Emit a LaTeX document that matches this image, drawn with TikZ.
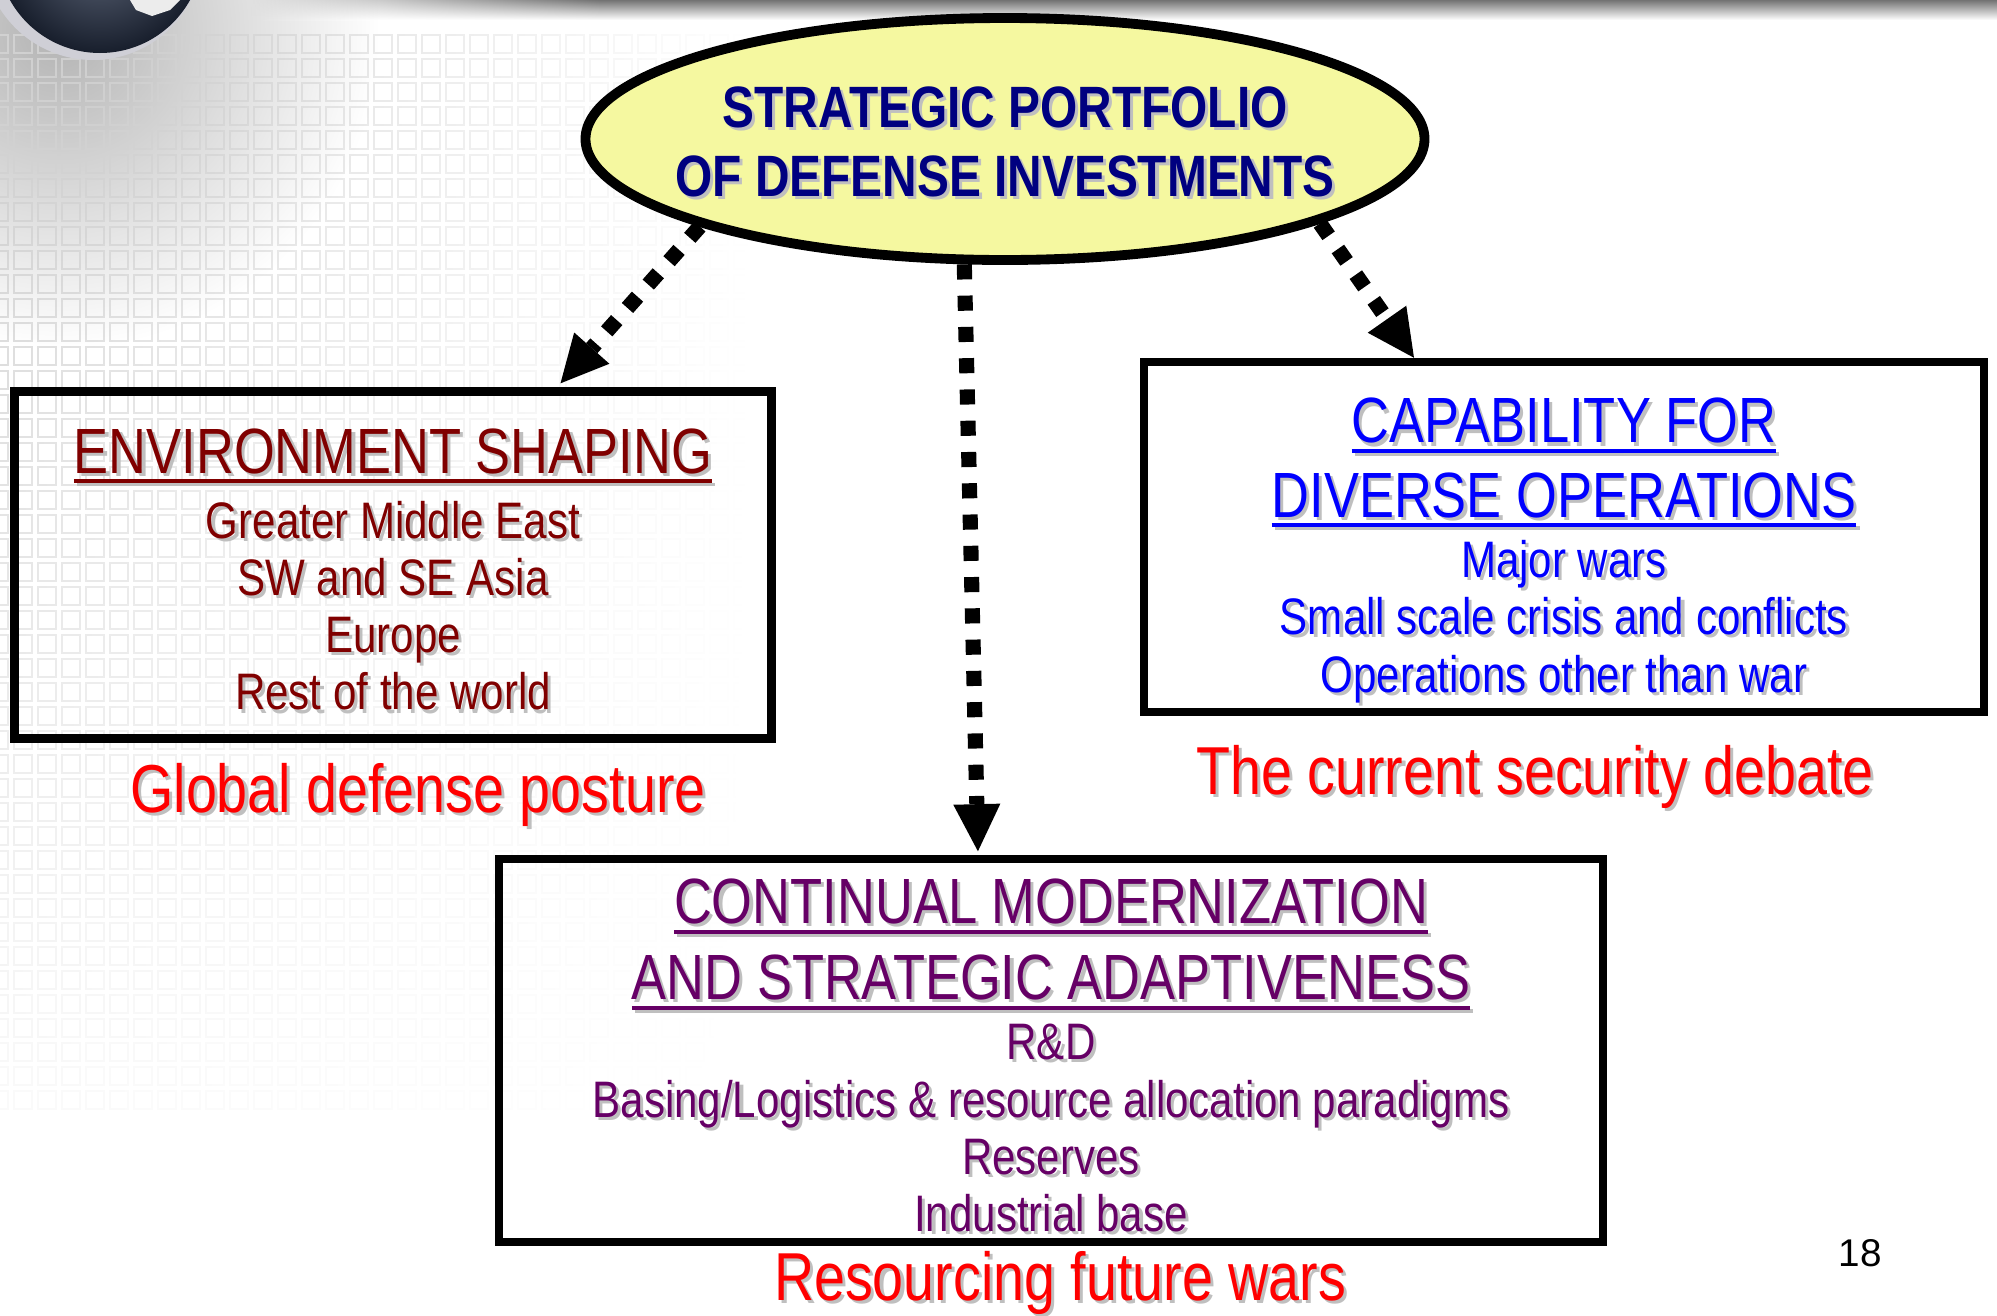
\documentclass[tikz,border=0pt]{standalone}
\usepackage{fontspec}
\setmainfont{Liberation Sans}
\newfontfamily\narrowfont[FakeStretch=0.82]{Liberation Sans}
\usetikzlibrary{arrows.meta,shapes.geometric,fadings}

\definecolor{portfolio}{HTML}{F5F8A0}
\definecolor{navy}{HTML}{000080}
\definecolor{maroon}{HTML}{800000}
\definecolor{brightblue}{HTML}{0000FF}
\definecolor{plum}{HTML}{660066}
\definecolor{globe}{HTML}{2B3750}

% text with a soft grey drop shadow
\newcommand\shadowed[1]{\leavevmode\rlap{\kern.9pt\raisebox{-.9pt}{\color{black!25}#1}}#1}
% heavy underline for the box headings
\newcommand\headline[1]{\setbox0\hbox{#1}\rlap{\rule[-2.9pt]{\wd0}{1.1pt}}\box0}
\newcommand\headsize{\fontsize{18.2}{16.3}\selectfont}
\newcommand\itemfont{\narrowfont\fontsize{14.6}{16.3}\selectfont\lineskiplimit=-\maxdimen\relax}
\newcommand\titlefont{\narrowfont\bfseries\fontsize{16.6}{19.6}\selectfont\lineskiplimit=-\maxdimen\relax}

\tikzset{
  >={Triangle[length=13.4pt,width=13.4pt,line width=0pt]},
  {flow/.style} = {->, line width=4.3pt, dash pattern=on 4.3pt off 4.6pt},
  {topic/.style} = {draw, line width=2.4pt, inner sep=0pt},
  {topic text/.style} = {align=center, inner sep=0pt, font=\itemfont},
  {title/.style} = {align=center, inner sep=0pt, text=navy, text depth=0pt,
                    font=\titlefont},
  {caption/.style} = {red, anchor=base, inner sep=0pt,
                      font=\narrowfont\fontsize{19.3}{20}\selectfont},
  {gridline/.style} = {gray!35, line width=0.6pt},
}

\begin{document}
\begin{tikzpicture}
  \useasboundingbox (0,0) rectangle (19.97,-13.16);

  % slide background: haze, square grid, globe, top bar
  \shade[inner color=black!30, outer color=white] (0.6,-0.3) circle (3.2cm);
  \foreach \r [evaluate=\r as \gridop using {1-\r/50}] in {0,...,44}
    \draw[gridline, opacity=\gridop, path fading=east]
      foreach \c in {0,...,31} {({-0.1+0.24*\c},{-0.35-0.24*\r}) rectangle ++(0.18,-0.18)};
  \fill[blue!8!gray!35] (0.93,0.5) circle (1.1cm);
  \shade[inner color=globe!75, outer color=globe!55!black] (1.0,0.5) circle (1.03cm);
  \fill[white!85!gray] (1.3,0) -- (1.36,-0.1) -- (1.52,-0.16) -- (1.7,-0.1) -- (1.8,0) -- cycle;
  \shade[top color=black!55, bottom color=white, path fading=west] (2.5,0) rectangle (6,-0.2);
  \shade[top color=black!55, bottom color=white] (6,0) rectangle (19.97,-0.2);

  \node[draw, ellipse, fill=portfolio, line width=2.8pt, inner sep=0pt,
        minimum width=8.39cm, minimum height=2.42cm] (portfolio) at (10.05,-1.39) {};
  \node[title] (title) at ([yshift=-0.025cm]portfolio.center)
    {\shadowed{STRATEGIC PORTFOLIO}\\ \shadowed{OF DEFENSE INVESTMENTS}};

  \node[topic, minimum width=7.57cm, minimum height=3.47cm] (shaping) at (3.93,-5.65) {};
  \node[topic text, text=maroon] (shaping text) at ([yshift=-0.06cm]shaping.center)
    {{\headsize\shadowed{\headline{ENVIRONMENT SHAPING}}}\\[2.2pt]
     \shadowed{Greater Middle East}\\ \shadowed{SW and SE Asia}\\
     \shadowed{Europe}\\ \shadowed{Rest of the world}};

  \node[topic, minimum width=8.40cm, minimum height=3.50cm] (capability) at (15.64,-5.37) {};
  \node[topic text, text=brightblue] (capability text) at ([yshift=-0.15cm]capability.center)
    {{\headsize\shadowed{\headline{CAPABILITY FOR}}}\\[4.8pt]
     {\headsize\shadowed{\headline{DIVERSE OPERATIONS}}}\\[0.9pt]
     \shadowed{Major wars}\\ \shadowed{Small scale crisis and conflicts}\\
     \shadowed{Operations other than war}};

  \node[topic, minimum width=11.04cm, minimum height=3.83cm] (modern) at (10.51,-10.505) {};
  \node[topic text, text=plum] (modern text) at ([yshift=-0.065cm]modern.center)
    {{\headsize\shadowed{\headline{CONTINUAL MODERNIZATION}}}\\[5.4pt]
     {\headsize\shadowed{\headline{AND STRATEGIC ADAPTIVENESS}}}\\[0.8pt]
     \shadowed{R\&D}\\ \shadowed{Basing/Logistics \& resource allocation paradigms}\\
     \shadowed{Reserves}\\ \shadowed{Industrial base}};

  \node[caption] (posture) at (4.18,-8.12) {\shadowed{Global defense posture}};
  \node[caption] (debate) at (15.35,-7.94) {\shadowed{The current security debate}};
  \node[caption] (future) at (10.60,-13.0) {\shadowed{Resourcing future wars}};
  \node[font=\fontsize{11}{13}\selectfont] (page) at (18.60,-12.53) {18};

  \draw[flow, shorten >=1.5pt] (portfolio.-164) -- ([xshift=1.64cm]shaping.north);
  \draw[flow, shorten >=1pt] (portfolio.-108) -- ([xshift=-0.73cm]modern.north);
  \draw[flow] (portfolio.-15) -- ([xshift=-1.5cm]capability.north);
\end{tikzpicture}
\end{document}
